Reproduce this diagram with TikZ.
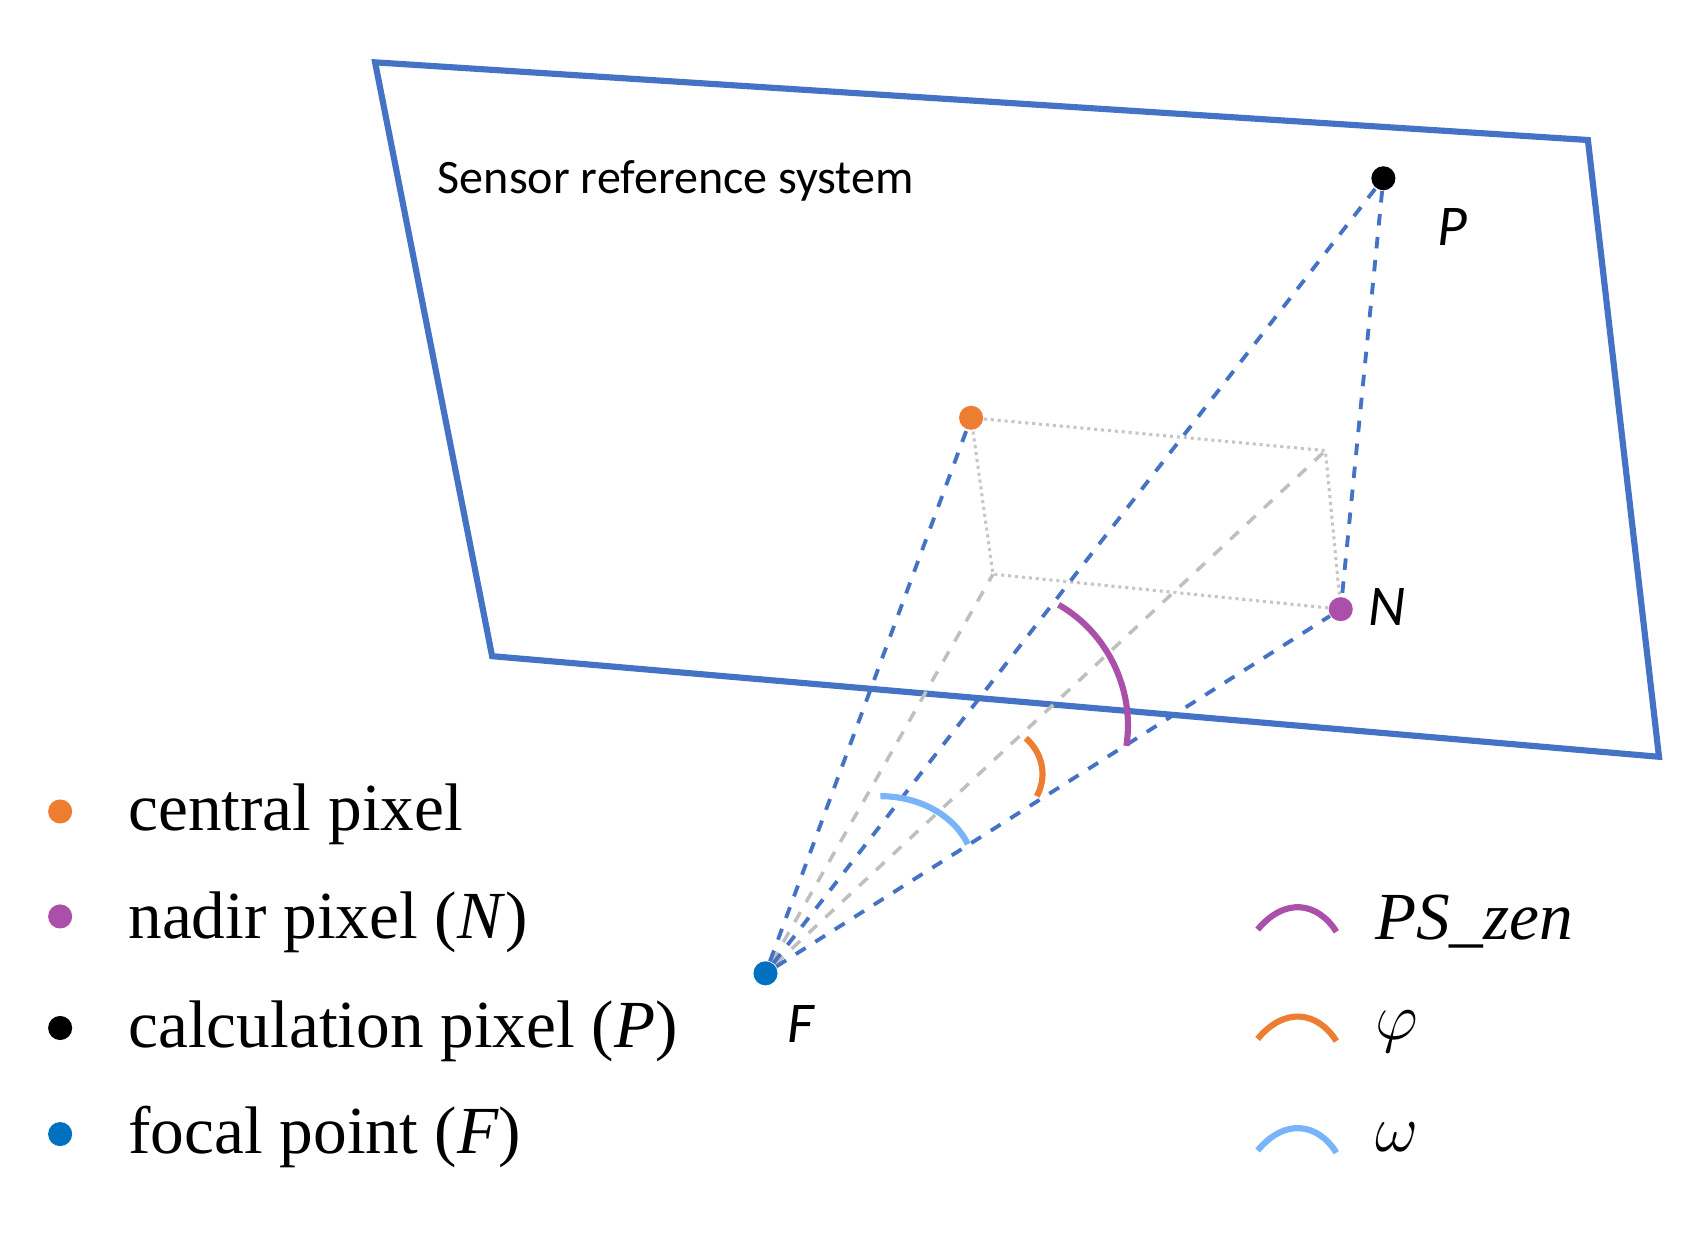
\documentclass[tikz,border=0pt]{standalone}
\usepackage{fontspec}
\setmainfont{Liberation Serif}
\newfontfamily\sens{Carlito}
\begin{document}
\begin{tikzpicture}[x=0.01cm,y=-0.01cm,
  plane/.style={draw=blue!60!black!80!cyan, line width=1.6pt},
  bl/.style={draw=blue!55!black!70!cyan, dashed, line width=1pt},
  gr/.style={draw=gray!45, densely dotted, line width=0.8pt},
  grd/.style={draw=gray!50, dashed, line width=0.9pt},
  dot/.style={circle, inner sep=0pt, minimum size=0.22cm},
  leg/.style={anchor=west, font=\fontsize{17.5pt}{20pt}\selectfont},
  lab/.style={font=\sens\fontsize{15pt}{17pt}\selectfont\itshape}]
\useasboundingbox (0,0) rectangle (1560,1132);
\definecolor{corange}{RGB}{237,125,49}
\definecolor{cpurple}{RGB}{170,80,170}
\definecolor{cblue}{RGB}{0,112,192}
\definecolor{clblue}{RGB}{120,180,250}
\definecolor{cplane}{RGB}{68,114,196}
\draw[plane, draw=cplane] (343,57) -- (1452,128) -- (1517,692) -- (450,600) -- cycle;
\node[anchor=west, font=\sens\fontsize{12.5pt}{14pt}\selectfont] (title) at (388,165) {Sensor reference system};
\coordinate (A) at (1212,412);
\coordinate (B) at (908,525);
\node[dot, fill=black] (P) at (1265,163) {};
\node[dot, fill=corange] (C) at (888,382) {};
\node[dot, fill=cpurple] (N) at (1226,557) {};
\node[dot, fill=cblue] (F) at (700,890) {};
\node[lab] (Pl) at (1328,208) {P};
\node[lab] (Nl) at (1268,555) {N};
\node[lab] (Fl) at (732,936) {F};
\draw[gr] (C) -- (A) -- (N) -- (B) -- (C);
\draw[grd] (F) -- (A);
\draw[grd] (F) -- (B);
\draw[bl, draw=cplane] (F) -- (C);
\draw[bl, draw=cplane] (F) -- (P);
\draw[bl, draw=cplane] (F) -- (N);
\draw[bl, draw=cplane] (P) -- (N);
\draw[cpurple, line width=1.6pt] (968,553) .. controls (1012,578) and (1038,630) .. (1030,682);
\draw[corange, line width=1.6pt] (938,675) .. controls (955,690) and (957,712) .. (948,728);
\draw[clblue, line width=1.6pt] (805,728) .. controls (840,728) and (872,745) .. (885,772);
% legend
\node[dot, fill=corange] (l1) at (55,742) {};
\node[dot, fill=cpurple] (l2) at (55,838) {};
\node[dot, fill=black] (l3) at (55,940) {};
\node[dot, fill=cblue] (l4) at (55,1037) {};
\node[leg] (t1) at (105,745) {central pixel};
\node[leg] (t2) at (105,843) {nadir pixel (\textit{N})};
\node[leg] (t3) at (105,943) {calculation pixel (\textit{P})};
\node[leg] (t4) at (105,1040) {focal point (\textit{F})};
\draw[cpurple, line width=1.6pt] (1150,850) .. controls (1175,820) and (1205,825) .. (1222,852);
\draw[corange, line width=1.6pt] (1150,950) .. controls (1175,920) and (1205,925) .. (1222,952);
\draw[clblue, line width=1.6pt] (1150,1052) .. controls (1175,1022) and (1205,1027) .. (1222,1054);
\node[leg] (r1) at (1245,843) {\textit{PS\_zen}};
\node[leg] (r2) at (1245,943) {$\varphi$};
\node[leg] (r3) at (1245,1040) {$\omega$};
\end{tikzpicture}
\end{document}
